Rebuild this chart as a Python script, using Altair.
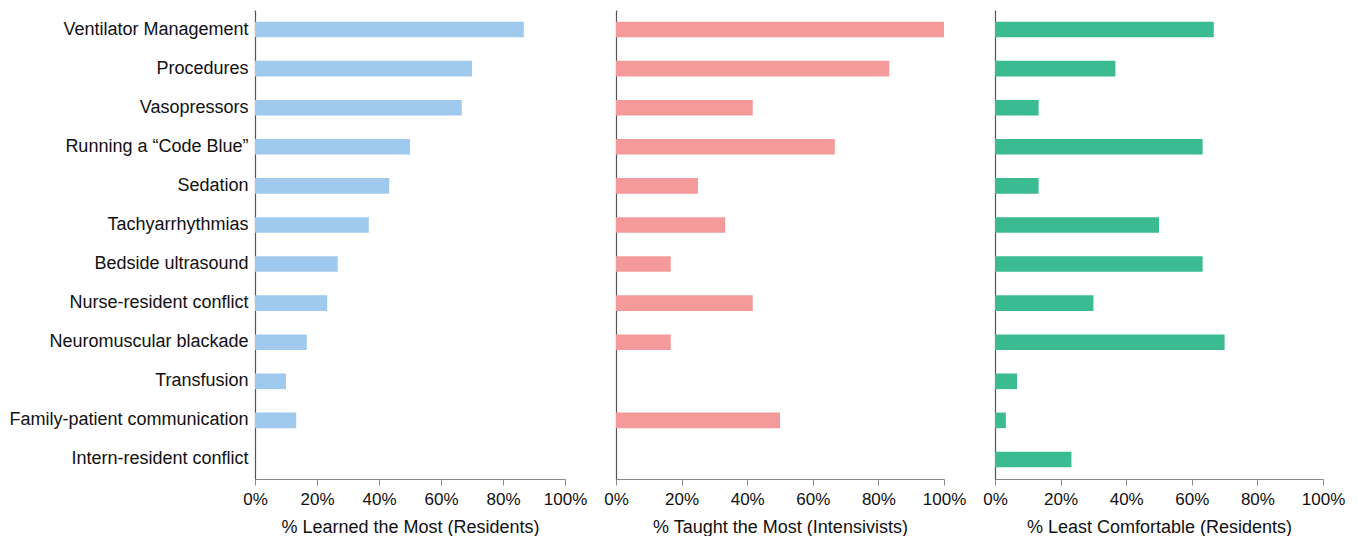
import altair as alt
import pandas as pd

categories = [
    "Ventilator Management",
    "Procedures",
    "Vasopressors",
    "Running a \u201cCode Blue\u201d",
    "Sedation",
    "Tachyarrhythmias",
    "Bedside ultrasound",
    "Nurse-resident conflict",
    "Neuromuscular blackade",
    "Transfusion",
    "Family-patient communication",
    "Intern-resident conflict",
]
learned = [86.7, 70.0, 66.7, 50.0, 43.3, 36.7, 26.7, 23.3, 16.7, 10.0, 13.3, 0.0]
taught = [100.0, 83.3, 41.7, 66.7, 25.0, 33.3, 16.7, 41.7, 16.7, 0.0, 50.0, 0.0]
least = [66.7, 36.7, 13.3, 63.3, 13.3, 50.0, 63.3, 30.0, 70.0, 6.7, 3.3, 23.3]

titles = [
    "% Learned the Most (Residents)",
    "% Taught the Most (Intensivists)",
    "% Least Comfortable (Residents)",
]
colors = ["#9fcaed", "#f49a9b", "#3abb91"]
ticks = [0, 20, 40, 60, 80, 100]

FONT = "Liberation Sans"


def panel(values, title, color, width, show_labels):
    df = pd.DataFrame({"cat": categories, "val": values})
    y_axis = alt.Axis(
        title=None,
        labels=show_labels,
        ticks=False,
        grid=False,
        domainColor="#555555",
        domainWidth=1.2,
        labelFont=FONT,
        labelFontSize=18,
        labelColor="#111111",
        labelPadding=7,
        labelLimit=400,
    )
    x_axis = alt.Axis(
        title=title,
        values=ticks,
        labelExpr="datum.value + '%'",
        labelFlush=False,
        labelOverlap=False,
        grid=False,
        domainColor="#888888",
        tickColor="#888888",
        tickSize=6,
        labelFont=FONT,
        labelFontSize=17,
        labelColor="#111111",
        labelPadding=6,
        titleFont=FONT,
        titleFontSize=18,
        titleFontWeight="normal",
        titleColor="#111111",
        titlePadding=11,
    )
    return (
        alt.Chart(df)
        .mark_bar(color=color)
        .encode(
            y=alt.Y(
                "cat:N",
                sort=categories,
                scale=alt.Scale(paddingInner=0.6, paddingOuter=0.3),
                axis=y_axis,
            ),
            x=alt.X("val:Q", scale=alt.Scale(domain=[0, 100]), axis=x_axis),
        )
        .properties(width=width, height=469, view=alt.ViewBackground(stroke="transparent", strokeWidth=0))
    )


p1 = panel(learned, titles[0], colors[0], 310, True)
p2 = panel(taught, titles[1], colors[1], 328, False)
p3 = panel(least, titles[2], colors[2], 328, False)

chart = (
    alt.hconcat(p1, p2, p3, spacing=51, bounds="flush")
    .properties(padding={"left": 0, "top": 2, "right": 0, "bottom": 0})
    .configure_view(stroke="transparent", strokeWidth=0)
    .configure(background="white")
)

chart.save("out.html", embed_options={"renderer": "svg", "actions": False})
